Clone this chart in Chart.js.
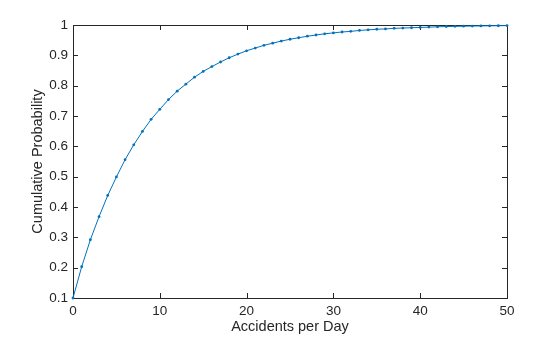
<!DOCTYPE html>
<html>
<head>
<meta charset="utf-8">
<script src="https://cdn.jsdelivr.net/npm/chart.js@4/dist/chart.umd.min.js"></script>
<style>
  html, body { margin: 0; padding: 0; background: #fff; }
  #cdf { display: block; }
</style>
</head>
<body>
<canvas id="cdf" width="560" height="337"></canvas>
<script>
// accidents per day, 0..50
const accidents = [];
for (let i = 0; i <= 50; i++) accidents.push(i);

// cumulative probability at each count
const cumProb = [
  0.100, 0.203, 0.292, 0.368, 0.438, 0.499, 0.556, 0.605, 0.649, 0.689,
  0.722, 0.754, 0.782, 0.805, 0.828, 0.847, 0.863, 0.878, 0.892, 0.904,
  0.915, 0.924, 0.933, 0.940, 0.947, 0.953, 0.958, 0.963, 0.967, 0.971,
  0.974, 0.977, 0.979, 0.982, 0.984, 0.986, 0.987, 0.989, 0.990, 0.991,
  0.992, 0.993, 0.994, 0.995, 0.9955, 0.996, 0.9965, 0.997, 0.9973, 0.9976,
  0.998
];

const xTicks = [0, 10, 20, 30, 40, 50];
const yTicks = [0.1, 0.2, 0.3, 0.4, 0.5, 0.6, 0.7, 0.8, 0.9, 1];

const lineColor = '#0072BD';
const fontFamily = "'Liberation Sans', Arial, Helvetica, sans-serif";

// box around the axes with inward ticks on all four sides
const axesBox = {
  id: 'axesBox',
  beforeDatasetsDraw(chart) {
    const { ctx, chartArea: a, scales } = chart;
    const len = 5;
    ctx.save();
    ctx.strokeStyle = '#262626';
    ctx.lineWidth = 1;
    ctx.beginPath();
    for (const v of xTicks) {
      const px = Math.round(scales.x.getPixelForValue(v)) + 0.5;
      ctx.moveTo(px, a.bottom); ctx.lineTo(px, a.bottom - len);
      ctx.moveTo(px, a.top); ctx.lineTo(px, a.top + len);
    }
    for (const v of yTicks) {
      const py = Math.round(scales.y.getPixelForValue(v)) + 0.5;
      ctx.moveTo(a.left, py); ctx.lineTo(a.left + len, py);
      ctx.moveTo(a.right, py); ctx.lineTo(a.right - len, py);
    }
    ctx.stroke();
    ctx.strokeRect(Math.round(a.left) + 0.5, Math.round(a.top) + 0.5,
      Math.round(a.right - a.left), Math.round(a.bottom - a.top));
    ctx.restore();
  }
};

new Chart(document.getElementById('cdf'), {
  type: 'line',
  data: {
    labels: accidents,
    datasets: [{
      data: accidents.map((x, i) => ({ x: x, y: cumProb[i] })),
      borderColor: lineColor,
      backgroundColor: lineColor,
      borderWidth: 1,
      pointRadius: 1.4,
      pointBorderWidth: 0,
      pointHoverRadius: 1.4,
      tension: 0,
      clip: false
    }]
  },
  options: {
    responsive: false,
    animation: false,
    events: [],
    layout: { padding: { top: 25, right: 53, left: 0, bottom: 0 } },
    plugins: { legend: { display: false }, tooltip: { enabled: false } },
    scales: {
      x: {
        type: 'linear',
        min: 0, max: 50,
        afterFit(s) { s.height = 39; },
        afterBuildTicks(s) { s.ticks = xTicks.map(v => ({ value: v })); },
        grid: { display: false, drawTicks: false },
        border: { display: false },
        ticks: {
          padding: 5, maxRotation: 0, color: '#262626',
          font: { family: fontFamily, size: 13.5 }
        },
        title: {
          display: true, text: 'Accidents per Day', color: '#262626',
          padding: { top: 0, bottom: 1 },
          font: { family: fontFamily, size: 14.5 }
        }
      },
      y: {
        type: 'linear',
        min: 0.1, max: 1,
        afterFit(s) { s.width = 73; },
        afterBuildTicks(s) { s.ticks = yTicks.map(v => ({ value: v })); },
        grid: { display: false, drawTicks: false },
        border: { display: false },
        ticks: {
          padding: 5, color: '#262626',
          font: { family: fontFamily, size: 13.5 },
          callback: v => String(Math.round(v * 10) / 10)
        },
        title: {
          display: true, text: 'Cumulative Probability', color: '#262626',
          padding: { top: 29, bottom: 0 },
          font: { family: fontFamily, size: 14.5 }
        }
      }
    }
  },
  plugins: [axesBox]
});
</script>
</body>
</html>
